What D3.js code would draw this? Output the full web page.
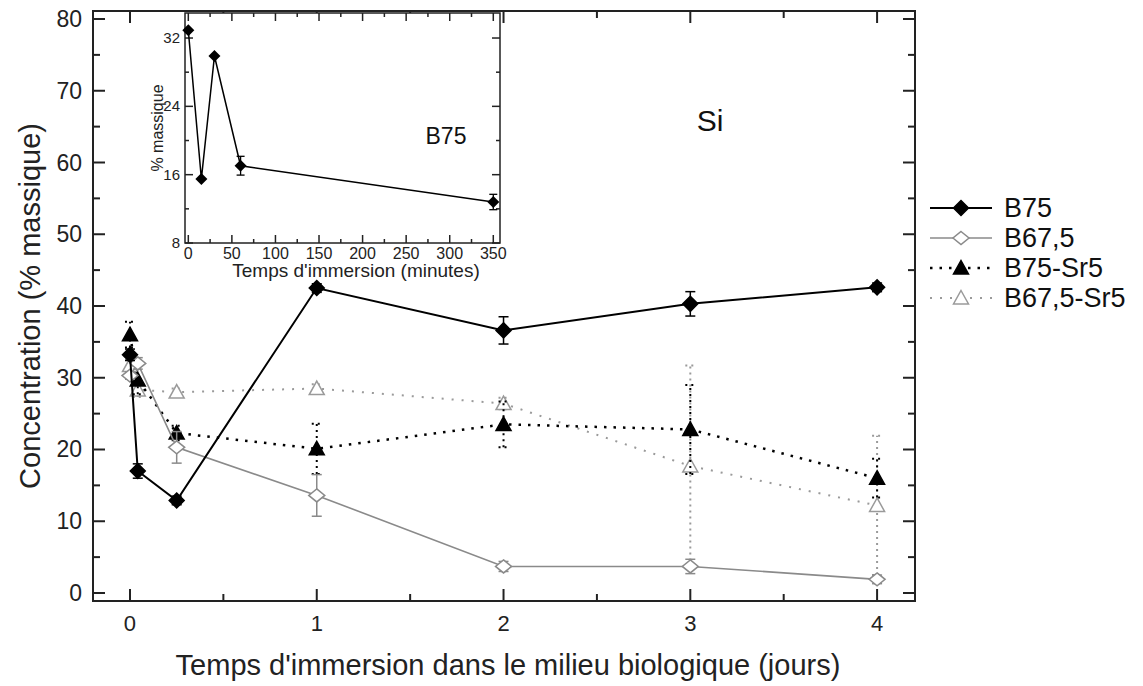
<!DOCTYPE html>
<html><head><meta charset="utf-8">
<script src="https://cdn.jsdelivr.net/npm/d3@7"></script>
<style>body{margin:0;background:#fff}svg{display:block}text{font-family:"Liberation Sans",Arial,sans-serif}</style>
</head><body>
<svg id="c" width="1143" height="686"></svg>
<script>
// ---------- data ----------
const days = [0, 0.0417, 0.25, 1, 2, 3, 4];
const b75 = [33.2, 17.0, 12.9, 42.5, 36.6, 40.3, 42.6];
const b75Err = [0.8, 1.0, 0.6, 0.6, 1.9, 1.7, 0.6];
const b675 = [30.3, 32.0, 20.3, 13.6, 3.7, 3.7, 1.9];
const b675Err = [0.5, 0.8, 2.2, 2.9, 0.7, 1.0, 0.6];
const b75sr5 = [36.0, 29.7, 22.3, 20.1, 23.5, 22.8, 16.0];
const b75sr5Err = [1.8, 2.0, 1.0, 3.5, 3.2, 6.2, 2.7];
const b675sr5 = [31.7, 28.3, 28.0, 28.5, 26.4, 17.7, 12.2];
const b675sr5Err = [0.8, 1.0, 0.5, 0.6, 0.8, 14.0, 9.7];
const xTicks = [0, 1, 2, 3, 4];
const yTicks = [0, 10, 20, 30, 40, 50, 60, 70, 80];
const seriesNames = ["B75", "B67,5", "B75-Sr5", "B67,5-Sr5"];

const insetMinutes = [0, 15, 30, 60, 350];
const insetB75 = [32.9, 15.5, 29.9, 17.05, 12.8];
const insetErr = [0, 0, 0, 1.1, 0.9];
const insetXTicks = [0, 50, 100, 150, 200, 250, 300, 350];
const insetYTicks = [8, 16, 24, 32];

// ---------- setup ----------
const svg = d3.select("#c");
const M = {l: 93, r: 915, t: 11, b: 601};
const x = d3.scaleLinear().domain([-0.198, 4.203]).range([M.l, M.r]);
const y = d3.scaleLinear().domain([-1.115, 81.115]).range([M.b, M.t]);

const styles = [
  {vals: b75, err: b75Err, color: "#000", dash: null, lw: 2, marker: "diamond", fill: "#000"},
  {vals: b675, err: b675Err, color: "#8a8a8a", dash: null, lw: 1.6, marker: "diamondOpen", fill: "#fff"},
  {vals: b75sr5, err: b75sr5Err, color: "#000", dash: "2.5,7", lw: 2.5, marker: "triangle", fill: "#000"},
  {vals: b675sr5, err: b675sr5Err, color: "#9a9a9a", dash: "2,8", lw: 2, marker: "triangleOpen", fill: "#fff"}
];

function markerPath(type) {
  if (type === "diamond") return "M0,-7.5L7.5,0L0,7.5L-7.5,0Z";
  if (type === "diamondOpen") return "M0,-6.5L8,0L0,6.5L-8,0Z";
  return "M0,-7.5L7.5,6L-7.5,6Z";
}

function frame(g, xs, ys, xMaj, xMin, yMaj, yMin, lenMaj, lenMin, sw) {
  const [x0, x1] = xs.range(), [y0, y1] = ys.range();
  g.append("rect").attr("x", x0).attr("y", y1).attr("width", x1 - x0).attr("height", y0 - y1)
    .attr("fill", "none").attr("stroke", "#222").attr("stroke-width", sw);
  const tk = g.append("g").attr("stroke", "#222").attr("stroke-width", sw);
  xMaj.forEach(v => {
    tk.append("line").attr("x1", xs(v)).attr("x2", xs(v)).attr("y1", y0).attr("y2", y0 - lenMaj);
    tk.append("line").attr("x1", xs(v)).attr("x2", xs(v)).attr("y1", y1).attr("y2", y1 + lenMaj);
  });
  xMin.forEach(v => {
    tk.append("line").attr("x1", xs(v)).attr("x2", xs(v)).attr("y1", y0).attr("y2", y0 - lenMin);
    tk.append("line").attr("x1", xs(v)).attr("x2", xs(v)).attr("y1", y1).attr("y2", y1 + lenMin);
  });
  yMaj.forEach(v => {
    tk.append("line").attr("y1", ys(v)).attr("y2", ys(v)).attr("x1", x0).attr("x2", x0 + lenMaj);
    tk.append("line").attr("y1", ys(v)).attr("y2", ys(v)).attr("x1", x1).attr("x2", x1 - lenMaj);
  });
  yMin.forEach(v => {
    tk.append("line").attr("y1", ys(v)).attr("y2", ys(v)).attr("x1", x0).attr("x2", x0 + lenMin);
    tk.append("line").attr("y1", ys(v)).attr("y2", ys(v)).attr("x1", x1).attr("x2", x1 - lenMin);
  });
}

// ---------- main plot ----------
const main = svg.append("g");
frame(main, x, y, xTicks, [0.5, 1.5, 2.5, 3.5], yTicks, [5, 15, 25, 35, 45, 55, 65, 75], 12, 7, 2);

main.selectAll(".xl").data(xTicks).join("text").attr("x", d => x(d)).attr("y", 631)
  .attr("text-anchor", "middle").attr("font-size", 22).attr("fill", "#222").text(d => d);
main.selectAll(".yl").data(yTicks).join("text").attr("x", 82).attr("y", d => y(d) + 8)
  .attr("text-anchor", "end").attr("font-size", 23).attr("fill", "#222").text(d => d);

svg.append("text").attr("x", 508).attr("y", 675).attr("text-anchor", "middle")
  .attr("font-size", 29).attr("fill", "#222").text("Temps d'immersion dans le milieu biologique (jours)");
svg.append("text").attr("transform", "translate(40,306) rotate(-90)").attr("text-anchor", "middle")
  .attr("font-size", 29).attr("fill", "#222").text("Concentration (% massique)");
svg.append("text").attr("x", 710).attr("y", 131).attr("text-anchor", "middle")
  .attr("font-size", 30).attr("fill", "#111").text("Si");

const order = [3, 2, 1, 0];
order.forEach(i => {
  const s = styles[i];
  const g = main.append("g");
  const pts = days.map((d, k) => ({d, v: s.vals[k], e: s.err[k]}));
  pts.forEach(p => {
    const eb = g.append("g").attr("stroke", s.color).attr("stroke-width", s.dash ? 2 : 1.5)
      .attr("stroke-dasharray", s.dash ? "2,4" : null);
    eb.append("line").attr("x1", x(p.d)).attr("x2", x(p.d)).attr("y1", y(p.v - p.e)).attr("y2", y(p.v + p.e));
    [p.v - p.e, p.v + p.e].forEach(v => eb.append("line").attr("x1", x(p.d) - 5).attr("x2", x(p.d) + 5)
      .attr("y1", y(v)).attr("y2", y(v)));
  });
  g.append("path").datum(pts).attr("fill", "none").attr("stroke", s.color).attr("stroke-width", s.lw)
    .attr("stroke-dasharray", s.dash).attr("d", d3.line().x(p => x(p.d)).y(p => y(p.v)));
  g.selectAll(".m").data(pts).join("path").attr("transform", p => `translate(${x(p.d)},${y(p.v)})`)
    .attr("d", markerPath(s.marker)).attr("fill", s.fill).attr("stroke", s.color).attr("stroke-width", 1.5);
});

// ---------- legend ----------
const leg = svg.append("g");
const legY = [208, 238, 268, 298];
seriesNames.forEach((n, i) => {
  const s = styles[i];
  const gy = legY[i];
  leg.append("line").attr("x1", 930).attr("x2", 992).attr("y1", gy).attr("y2", gy)
    .attr("stroke", s.color).attr("stroke-width", s.lw).attr("stroke-dasharray", s.dash);
  leg.append("path").attr("transform", `translate(961,${gy})`).attr("d", markerPath(s.marker))
    .attr("fill", s.fill).attr("stroke", s.color).attr("stroke-width", 1.5);
  leg.append("text").attr("x", 1004).attr("y", gy + 9).attr("font-size", 27).attr("fill", "#111").text(n);
});

// ---------- inset ----------
const IX = d3.scaleLinear().domain([-3.8, 357.7]).range([185, 500]);
const IY = d3.scaleLinear().domain([8, 34.93]).range([243, 13]);
const ins = svg.append("g");
ins.append("rect").attr("x", 185).attr("y", 13).attr("width", 315).attr("height", 230).attr("fill", "#fff");
frame(ins, IX, IY, insetXTicks, [25, 75, 125, 175, 225, 275, 325], insetYTicks, [12, 20, 28], 8, 4, 1.5);
ins.selectAll(".ixl").data(insetXTicks).join("text").attr("x", d => IX(d)).attr("y", 259)
  .attr("text-anchor", "middle").attr("font-size", 16).attr("fill", "#222").text(d => d);
ins.selectAll(".iyl").data(insetYTicks).join("text").attr("x", 180).attr("y", d => IY(d) + 5)
  .attr("text-anchor", "end").attr("font-size", 15).attr("fill", "#222").text(d => d);
ins.append("text").attr("x", 356).attr("y", 277).attr("text-anchor", "middle").attr("font-size", 19)
  .attr("fill", "#222").text("Temps d'immersion (minutes)");
ins.append("text").attr("transform", "translate(163,128) rotate(-90)").attr("text-anchor", "middle")
  .attr("font-size", 16).attr("fill", "#222").text("% massique");
ins.append("text").attr("x", 446).attr("y", 144).attr("text-anchor", "middle").attr("font-size", 23)
  .attr("fill", "#111").text("B75");
const ipts = insetMinutes.map((m, k) => ({m, v: insetB75[k], e: insetErr[k]}));
ipts.filter(p => p.e > 0).forEach(p => {
  const eb = ins.append("g").attr("stroke", "#000").attr("stroke-width", 1.3);
  eb.append("line").attr("x1", IX(p.m)).attr("x2", IX(p.m)).attr("y1", IY(p.v - p.e)).attr("y2", IY(p.v + p.e));
  [p.v - p.e, p.v + p.e].forEach(v => eb.append("line").attr("x1", IX(p.m) - 4).attr("x2", IX(p.m) + 4)
    .attr("y1", IY(v)).attr("y2", IY(v)));
});
ins.append("path").datum(ipts).attr("fill", "none").attr("stroke", "#000").attr("stroke-width", 1.5)
  .attr("d", d3.line().x(p => IX(p.m)).y(p => IY(p.v)));
ins.selectAll(".im").data(ipts).join("path").attr("transform", p => `translate(${IX(p.m)},${IY(p.v)})`)
  .attr("d", "M0,-6L6,0L0,6L-6,0Z").attr("fill", "#000");
</script>
</body></html>
